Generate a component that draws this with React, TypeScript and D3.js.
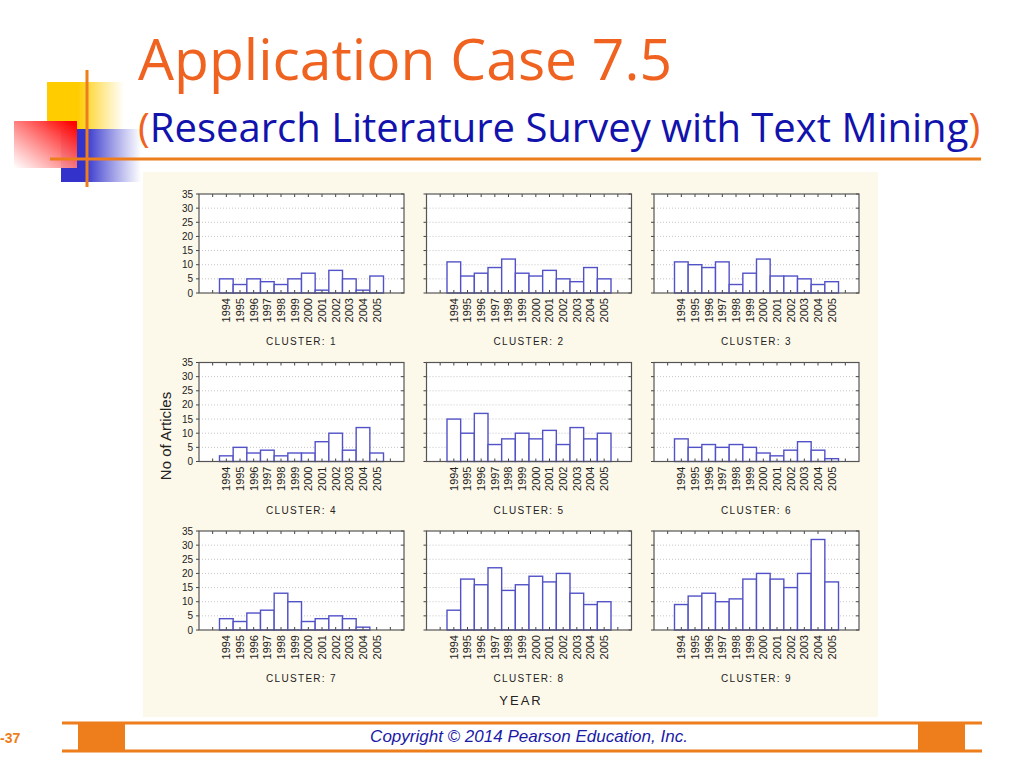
import * as d3 from "d3";
import React, { useEffect, useRef } from 'react'

const years = [1994, 1995, 1996, 1997, 1998, 1999, 2000, 2001, 2002, 2003, 2004, 2005]
const cluster1 = [5, 3, 5, 4, 3, 5, 7, 1, 8, 5, 1, 6]
const cluster2 = [11, 6, 7, 9, 12, 7, 6, 8, 5, 4, 9, 5]
const cluster3 = [11, 10, 9, 11, 3, 7, 12, 6, 6, 5, 3, 4]
const cluster4 = [2, 5, 3, 4, 2, 3, 3, 7, 10, 4, 12, 3]
const cluster5 = [15, 10, 17, 6, 8, 10, 8, 11, 6, 12, 8, 10]
const cluster6 = [8, 5, 6, 5, 6, 5, 3, 2, 4, 7, 4, 1]
const cluster7 = [4, 3, 6, 7, 13, 10, 3, 4, 5, 4, 1, 0]
const cluster8 = [7, 18, 16, 22, 14, 16, 19, 17, 20, 13, 9, 10]
const cluster9 = [9, 12, 13, 10, 11, 18, 20, 18, 15, 20, 32, 17]
const yTicks = [0, 5, 10, 15, 20, 25, 30, 35]
const clusterNames = ["CLUSTER: 1", "CLUSTER: 2", "CLUSTER: 3", "CLUSTER: 4", "CLUSTER: 5", "CLUSTER: 6", "CLUSTER: 7", "CLUSTER: 8", "CLUSTER: 9"]

const title = "Application Case 7.5"
const subtitle = "Research Literature Survey with Text Mining"
const footer = "Copyright \u00a9 2014 Pearson Education, Inc."

const drawChart = (el: SVGSVGElement) => {
  const svg = d3.select(el)
  svg.selectAll("*").remove()
  const orange = "#ee7d1b"
  const chartFont = "'Liberation Sans', Arial, sans-serif"

  const defs = svg.append("defs")
  const grad = (id: string, x1: string, y1: string, x2: string, y2: string, c: string, o1: number) => {
    const g = defs.append("linearGradient").attr("id", id)
      .attr("x1", x1).attr("y1", y1).attr("x2", x2).attr("y2", y2)
    g.append("stop").attr("offset", o1).attr("stop-color", c)
    g.append("stop").attr("offset", 1).attr("stop-color", "#ffffff").attr("stop-opacity", 0.9)
  }
  grad("gYellow", "0", "0", "1", "0", "#ffcc00", 0.4)
  grad("gBlue", "0", "0", "1", "0", "#3333cc", 0.3)
  grad("gRed", "1", "0", "0", "1", "#ff0000", 0.05)

  svg.append("rect").attr("width", 1024).attr("height", 768).attr("fill", "#ffffff")

  // corner decoration
  svg.append("rect").attr("x", 47).attr("y", 82).attr("width", 77).attr("height", 48).attr("fill", "url(#gYellow)")
  svg.append("rect").attr("x", 61).attr("y", 129).attr("width", 80).attr("height", 53).attr("fill", "url(#gBlue)")
  svg.append("rect").attr("x", 14).attr("y", 121).attr("width", 63).attr("height", 47).attr("fill", "url(#gRed)")
  svg.append("line").attr("x1", 87).attr("x2", 87).attr("y1", 70).attr("y2", 187).attr("stroke", orange).attr("stroke-width", 3)
  svg.append("line").attr("x1", 50).attr("x2", 981).attr("y1", 159).attr("y2", 159).attr("stroke", orange).attr("stroke-width", 3)

  svg.append("text").attr("x", 138).attr("y", 80).attr("font-family", "'Open Sans', sans-serif")
    .attr("font-size", 57).attr("fill", "#f0621f").text(title)
  const st = svg.append("text").attr("x", 138).attr("y", 142).attr("font-family", "'Open Sans', sans-serif")
    .attr("font-size", 40).attr("fill", "#1212ac")
  st.append("tspan").attr("fill", "#f0621f").text("(")
  st.append("tspan").text(subtitle)
  st.append("tspan").attr("fill", "#f0621f").text(")")

  // chart area
  svg.append("rect").attr("x", 143).attr("y", 172).attr("width", 735).attr("height", 545).attr("fill", "#fdf9ea")

  const cols = [199, 426.5, 654]
  const rows = [194, 362.5, 531]
  const w = 205
  const h = 99
  const x = d3.scaleLinear().domain([1992, 2007]).range([0, w])
  const y = d3.scaleLinear().domain([0, 35]).range([h, 0])
  const clusters = [cluster1, cluster2, cluster3, cluster4, cluster5, cluster6, cluster7, cluster8, cluster9]
  const tickYears = d3.range(1993, 2007)

  clusters.forEach((vals, i) => {
    const g = svg.append("g").attr("transform", `translate(${cols[i % 3]},${rows[Math.floor(i / 3)]})`)
    g.append("rect").attr("width", w).attr("height", h).attr("fill", "#ffffff")
    g.selectAll("line.grid").data(yTicks.slice(1, -1)).enter().append("line")
      .attr("x1", 0).attr("x2", w).attr("y1", (d) => y(d)).attr("y2", (d) => y(d))
      .attr("stroke", "#b8b8b8").attr("stroke-width", 0.8).attr("stroke-dasharray", "1,2")
    g.selectAll("rect.bar").data(vals.map((v, j) => ({ v, yr: years[j] })).filter((d) => d.v > 0))
      .enter().append("rect")
      .attr("x", (d) => x(d.yr - 0.5)).attr("width", x(1993) - x(1992))
      .attr("y", (d) => y(d.v)).attr("height", (d) => h - y(d.v))
      .attr("fill", "#ffffff").attr("stroke", "#5252c8").attr("stroke-width", 1.4)
    // ticks
    g.selectAll("line.tt").data(tickYears).enter().append("line")
      .attr("x1", (d) => x(d)).attr("x2", (d) => x(d)).attr("y1", 0).attr("y2", 3)
      .attr("stroke", "#444")
    g.selectAll("line.tb").data(tickYears).enter().append("line")
      .attr("x1", (d) => x(d)).attr("x2", (d) => x(d)).attr("y1", h).attr("y2", h - 3)
      .attr("stroke", "#444")
    g.selectAll("line.tr").data(yTicks).enter().append("line")
      .attr("x1", w).attr("x2", w - 3).attr("y1", (d) => y(d)).attr("y2", (d) => y(d))
      .attr("stroke", "#444")
    g.selectAll("line.tl").data(yTicks).enter().append("line")
      .attr("x1", 0).attr("x2", -3).attr("y1", (d) => y(d)).attr("y2", (d) => y(d))
      .attr("stroke", "#444")
    g.append("rect").attr("width", w).attr("height", h).attr("fill", "none").attr("stroke", "#555").attr("stroke-width", 1.2)

    if (i % 3 === 0) {
      g.selectAll("text.yl").data(yTicks).enter().append("text")
        .attr("x", -6).attr("y", (d) => y(d)).attr("dy", "0.35em")
        .attr("text-anchor", "end").attr("font-family", chartFont).attr("font-size", 10)
        .attr("fill", "#222").text((d) => d)
    }
    g.selectAll("text.xl").data(years).enter().append("text")
      .attr("transform", (d) => `translate(${x(d)},${h + 5}) rotate(-90)`)
      .attr("dy", "0.35em").attr("text-anchor", "end")
      .attr("font-family", chartFont).attr("font-size", 11).attr("fill", "#222")
      .text((d) => d)
    g.append("text").attr("x", w / 2).attr("y", 151).attr("text-anchor", "middle")
      .attr("font-family", chartFont).attr("font-size", 10).attr("letter-spacing", 1.3)
      .attr("fill", "#222").text(clusterNames[i])
  })

  svg.append("text").attr("transform", "translate(171,436) rotate(-90)").attr("text-anchor", "middle")
    .attr("font-family", chartFont).attr("font-size", 15).attr("fill", "#222").text("No of Articles")
  svg.append("text").attr("x", 521).attr("y", 705).attr("text-anchor", "middle")
    .attr("font-family", chartFont).attr("font-size", 13).attr("letter-spacing", 2).attr("fill", "#222").text("YEAR")

  // footer
  svg.append("line").attr("x1", 62).attr("x2", 982).attr("y1", 723).attr("y2", 723).attr("stroke", orange).attr("stroke-width", 3)
  svg.append("line").attr("x1", 62).attr("x2", 982).attr("y1", 751).attr("y2", 751).attr("stroke", orange).attr("stroke-width", 3)
  svg.append("rect").attr("x", 78).attr("y", 723).attr("width", 47).attr("height", 28).attr("fill", orange)
  svg.append("rect").attr("x", 918).attr("y", 723).attr("width", 47).attr("height", 28).attr("fill", orange)
  svg.append("text").attr("x", 0).attr("y", 743).attr("font-family", chartFont).attr("font-weight", "bold")
    .attr("font-size", 14).attr("fill", orange).text("-37")
  svg.append("text").attr("x", 529).attr("y", 742).attr("text-anchor", "middle").attr("font-family", chartFont)
    .attr("font-style", "italic").attr("font-size", 17).attr("fill", "#1a1aa8").text(footer)
}

export default function App() {
  const ref = useRef<SVGSVGElement>(null)
  useEffect(() => {
    if (ref.current) drawChart(ref.current)
  })
  return (
    <svg ref={ref} width={1024} height={768}
      style={{ position: "absolute", left: 0, top: 0, display: "block" }} />
  )
}
